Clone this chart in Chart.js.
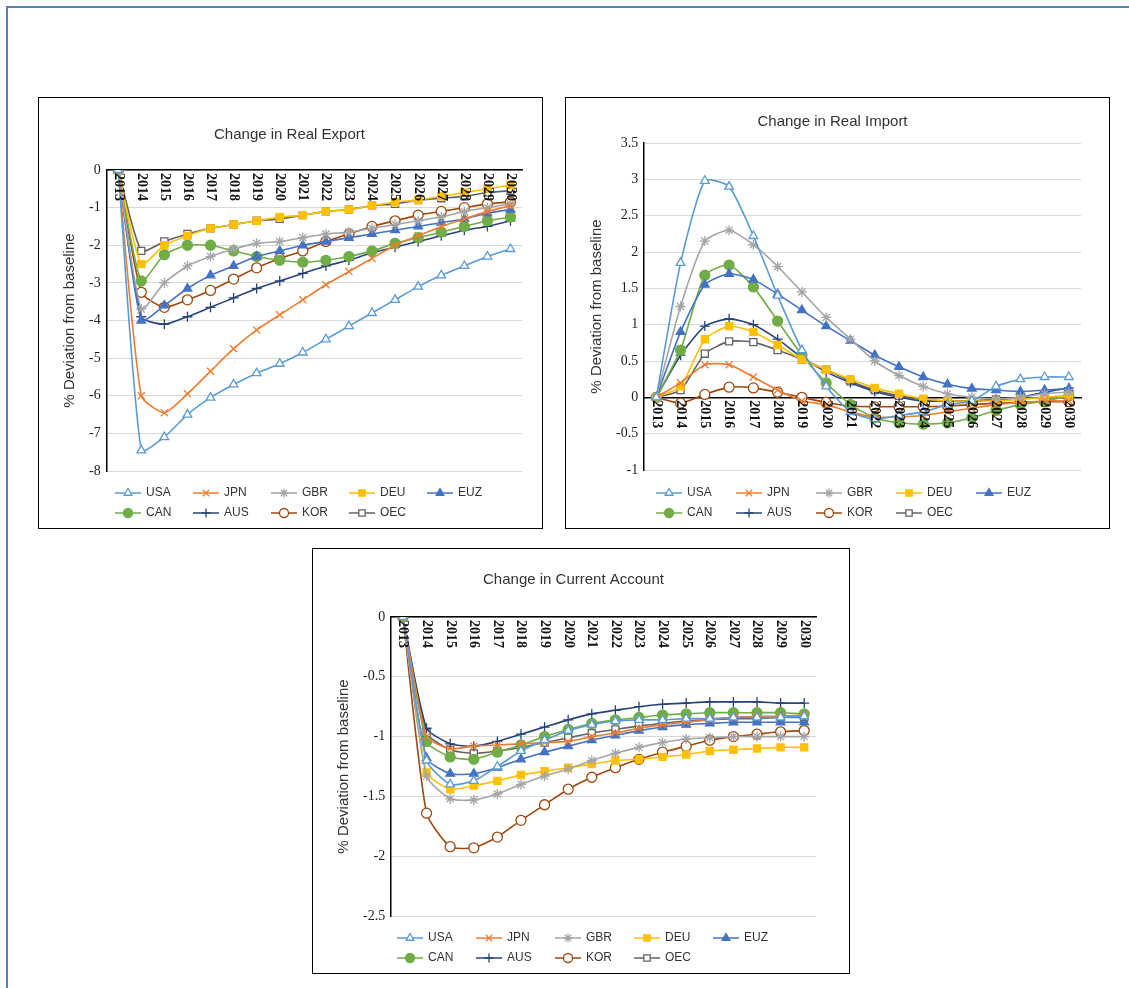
<!DOCTYPE html>
<html><head><meta charset="utf-8">
<script src="https://cdn.jsdelivr.net/npm/chart.js@4.4.0/dist/chart.umd.min.js"></script>
<style>
body{margin:0;background:#fff;width:1129px;height:988px;overflow:hidden;position:relative;font-family:"Liberation Sans",sans-serif}
#frame{position:absolute;left:6px;top:6px;width:1140px;height:1000px;border:2px solid #5b7fb3}
.box{position:absolute;border:1px solid #000;background:#fff}
</style></head><body>
<div id="frame"></div>
<div class="box" style="left:38px;top:97px;width:503px;height:430px"><canvas id="c1"></canvas></div>
<div class="box" style="left:565px;top:97px;width:543px;height:430px"><canvas id="c2"></canvas></div>
<div class="box" style="left:312px;top:548px;width:536px;height:424px"><canvas id="c3"></canvas></div>
<script>
const years=['2013','2014','2015','2016','2017','2018','2019','2020','2021','2022','2023','2024','2025','2026','2027','2028','2029','2030'];
const seriesNames=['USA','JPN','GBR','DEU','EUZ','CAN','AUS','KOR','OEC'];

const exportUSA=[0,-7.45,-7.1,-6.5,-6.05,-5.7,-5.4,-5.15,-4.85,-4.5,-4.15,-3.8,-3.45,-3.1,-2.8,-2.55,-2.3,-2.1];
const exportJPN=[0,-6.0,-6.45,-5.95,-5.35,-4.75,-4.25,-3.85,-3.45,-3.05,-2.7,-2.35,-2.0,-1.75,-1.5,-1.3,-1.1,-0.95];
const exportGBR=[0,-3.7,-3.0,-2.55,-2.3,-2.1,-1.95,-1.9,-1.8,-1.7,-1.65,-1.55,-1.45,-1.35,-1.25,-1.1,-1.0,-0.9];
const exportDEU=[0,-2.5,-2.0,-1.75,-1.55,-1.45,-1.35,-1.25,-1.2,-1.1,-1.05,-0.95,-0.85,-0.8,-0.7,-0.6,-0.5,-0.4];
const exportEUZ=[0,-4.0,-3.6,-3.15,-2.8,-2.55,-2.3,-2.15,-2.0,-1.9,-1.8,-1.7,-1.6,-1.5,-1.4,-1.3,-1.15,-1.05];
const exportCAN=[0,-2.95,-2.25,-2.0,-2.0,-2.15,-2.3,-2.4,-2.45,-2.4,-2.3,-2.15,-1.95,-1.8,-1.65,-1.5,-1.35,-1.25];
const exportAUS=[0,-3.9,-4.1,-3.9,-3.65,-3.4,-3.15,-2.95,-2.75,-2.55,-2.4,-2.2,-2.05,-1.9,-1.75,-1.6,-1.5,-1.35];
const exportKOR=[0,-3.25,-3.65,-3.45,-3.2,-2.9,-2.6,-2.35,-2.15,-1.9,-1.7,-1.5,-1.35,-1.2,-1.1,-1.0,-0.9,-0.85];
const exportOEC=[0,-2.15,-1.9,-1.7,-1.55,-1.45,-1.35,-1.3,-1.2,-1.1,-1.05,-0.95,-0.9,-0.8,-0.75,-0.7,-0.6,-0.55];

const importUSA=[0,1.85,2.98,2.9,2.22,1.4,0.65,0.15,-0.2,-0.3,-0.25,-0.2,-0.1,-0.05,0.15,0.25,0.28,0.28];
const importJPN=[0,0.2,0.45,0.45,0.28,0.1,-0.05,-0.1,-0.2,-0.27,-0.27,-0.25,-0.2,-0.15,-0.1,-0.07,-0.05,-0.05];
const importGBR=[0,1.25,2.15,2.3,2.1,1.8,1.45,1.1,0.8,0.5,0.3,0.15,0.05,0,-0.02,0,0.05,0.07];
const importDEU=[0,0.15,0.8,0.98,0.9,0.72,0.52,0.38,0.25,0.13,0.05,-0.02,-0.05,-0.05,-0.05,-0.03,0,0.02];
const importEUZ=[0,0.9,1.55,1.7,1.62,1.42,1.2,0.98,0.78,0.58,0.42,0.28,0.18,0.12,0.1,0.08,0.1,0.12];
const importCAN=[0,0.65,1.68,1.82,1.52,1.05,0.58,0.2,-0.1,-0.28,-0.35,-0.37,-0.35,-0.28,-0.18,-0.1,-0.05,0.02];
const importAUS=[0,0.58,0.98,1.08,1.0,0.8,0.55,0.35,0.2,0.08,0,-0.05,-0.05,-0.05,-0.03,0,0.07,0.13];
const importKOR=[0,-0.08,0.04,0.14,0.13,0.07,0,-0.07,-0.12,-0.13,-0.13,-0.13,-0.12,-0.1,-0.08,-0.07,-0.06,-0.06];
const importOEC=[0,0.1,0.6,0.77,0.76,0.65,0.52,0.38,0.22,0.1,0.02,-0.03,-0.05,-0.05,-0.03,-0.01,0,0.02];

const caUSA=[0,-1.2,-1.4,-1.37,-1.25,-1.12,-1.03,-0.95,-0.9,-0.87,-0.86,-0.86,-0.85,-0.85,-0.84,-0.84,-0.84,-0.83];
const caJPN=[0,-1.0,-1.1,-1.08,-1.07,-1.06,-1.05,-1.04,-1.0,-0.97,-0.93,-0.9,-0.88,-0.86,-0.84,-0.83,-0.83,-0.82];
const caGBR=[0,-1.33,-1.52,-1.53,-1.48,-1.4,-1.33,-1.27,-1.2,-1.14,-1.09,-1.05,-1.02,-1.01,-1.0,-1.0,-1.0,-1.0];
const caDEU=[0,-1.3,-1.44,-1.41,-1.37,-1.32,-1.29,-1.26,-1.23,-1.2,-1.19,-1.17,-1.15,-1.12,-1.11,-1.1,-1.09,-1.09];
const caEUZ=[0,-1.18,-1.31,-1.31,-1.26,-1.19,-1.13,-1.08,-1.03,-0.99,-0.95,-0.92,-0.9,-0.89,-0.88,-0.88,-0.88,-0.88];
const caCAN=[0,-1.04,-1.17,-1.19,-1.13,-1.07,-1.0,-0.94,-0.89,-0.86,-0.84,-0.82,-0.81,-0.8,-0.8,-0.8,-0.8,-0.81];
const caAUS=[0,-0.93,-1.06,-1.08,-1.04,-0.98,-0.92,-0.86,-0.81,-0.78,-0.75,-0.73,-0.72,-0.71,-0.71,-0.71,-0.72,-0.72];
const caKOR=[0,-1.64,-1.92,-1.93,-1.84,-1.7,-1.57,-1.44,-1.34,-1.26,-1.19,-1.13,-1.08,-1.03,-1.0,-0.98,-0.96,-0.95];
const caOEC=[0,-0.97,-1.11,-1.14,-1.12,-1.09,-1.05,-1.01,-0.97,-0.94,-0.91,-0.89,-0.87,-0.86,-0.85,-0.85,-0.84,-0.84];

const styles=[
 {c:'#5B9BD5',p:'triangle',f:'#fff'},
 {c:'#ED7D31',p:'crossRot',f:'#ED7D31'},
 {c:'#A5A5A5',p:'star',f:'#A5A5A5'},
 {c:'#FFC000',p:'rect',f:'#FFC000'},
 {c:'#4472C4',p:'triangle',f:'#4472C4'},
 {c:'#70AD47',p:'circle',f:'#70AD47'},
 {c:'#264478',p:'cross',f:'#264478'},
 {c:'#9E480E',p:'circle',f:'#fff'},
 {c:'#636363',p:'rect',f:'#fff'}
];

const vLabels={id:'vLabels',afterDatasetsDraw(ch){
  const x=ch.scales.x,y=ch.scales.y,ctx=ch.ctx;const y0=y.getPixelForValue(0);
  ctx.save();ctx.font='bold 14px "Liberation Serif"';ctx.fillStyle='#111';ctx.textBaseline='middle';ctx.textAlign='left';
  years.forEach((l,i)=>{const px=x.getPixelForValue(i);ctx.save();ctx.translate(px,y0+3);ctx.rotate(Math.PI/2);ctx.fillText(l,0,0);ctx.restore();});
  ctx.restore();}};
const legendP={id:'legendP',afterDraw(ch,a,o){
  const ctx=ch.ctx;ctx.save();ctx.font='12px "Liberation Sans"';ctx.textBaseline='middle';
  ch.data.datasets.forEach((d,i)=>{const r=i<5?0:1,cix=i<5?i:i-5;const x=o.x+cix*o.dx,y=o.y+r*20;
    ctx.strokeStyle=d.borderColor;ctx.lineWidth=1.5;ctx.beginPath();ctx.moveTo(x,y);ctx.lineTo(x+26,y);ctx.stroke();
    ctx.fillStyle=d.pointBackgroundColor;ctx.strokeStyle=d.borderColor;ctx.lineWidth=1.3;
    Chart.helpers.drawPoint(ctx,{pointStyle:d.pointStyle,radius:4.5,borderWidth:1.3,rotation:0},x+13,y);
    ctx.fillStyle='#333';ctx.fillText(d.label,x+31,y);});
  ctx.restore();}};

function make(id,title,arrs,min,max,step,pad,leg,titlePad){
  new Chart(document.getElementById(id),{type:'line',
    data:{labels:years,datasets:arrs.map((a,i)=>({label:seriesNames[i],data:a,borderColor:styles[i].c,backgroundColor:styles[i].f,
      pointBackgroundColor:styles[i].f,pointBorderColor:styles[i].c,pointStyle:styles[i].p,pointRadius:5,pointBorderWidth:1.3,borderWidth:1.6,tension:0.2}))},
    options:{responsive:true,maintainAspectRatio:false,animation:false,layout:{padding:pad},
      plugins:{legend:{display:false},tooltip:{enabled:false},legendP:leg,
        title:{display:true,text:title,color:'#333',font:{family:'Liberation Sans',size:15,weight:'normal'},padding:titlePad}},
      scales:{x:{position:{y:0},offset:true,grid:{display:false},border:{color:'#000',width:1.5},ticks:{display:false}},
        y:{min:min,max:max,ticks:{stepSize:step,color:'#222',font:{family:'Liberation Serif',size:14},padding:6,callback:v=>String(+v.toFixed(2))},
          grid:{color:'#d9d9d9',drawTicks:false},border:{color:'#000',width:1.5},
          title:{display:true,text:'% Deviation from baseline',color:'#333',font:{family:'Liberation Sans',size:15}}}}},
    plugins:[vLabels,legendP]});
}
make('c1','Change in Real Export',[exportUSA,exportJPN,exportGBR,exportDEU,exportEUZ,exportCAN,exportAUS,exportKOR,exportOEC],-8,0,1,{left:18,right:20,top:28,bottom:57},{x:76,dx:78,y:395},{top:0,bottom:26});
make('c2','Change in Real Import',[importUSA,importJPN,importGBR,importDEU,importEUZ,importCAN,importAUS,importKOR,importOEC],-1,3.5,0.5,{left:18,right:28,top:15,bottom:58},{x:90,dx:80,y:395},{top:0,bottom:12});
make('c3','Change in Current Account',[caUSA,caJPN,caGBR,caDEU,caEUZ,caCAN,caAUS,caKOR,caOEC],-2.5,0,0.5,{left:18,right:33,top:22,bottom:57},{x:84,dx:79,y:389},{top:0,bottom:28});
</script></body></html>
